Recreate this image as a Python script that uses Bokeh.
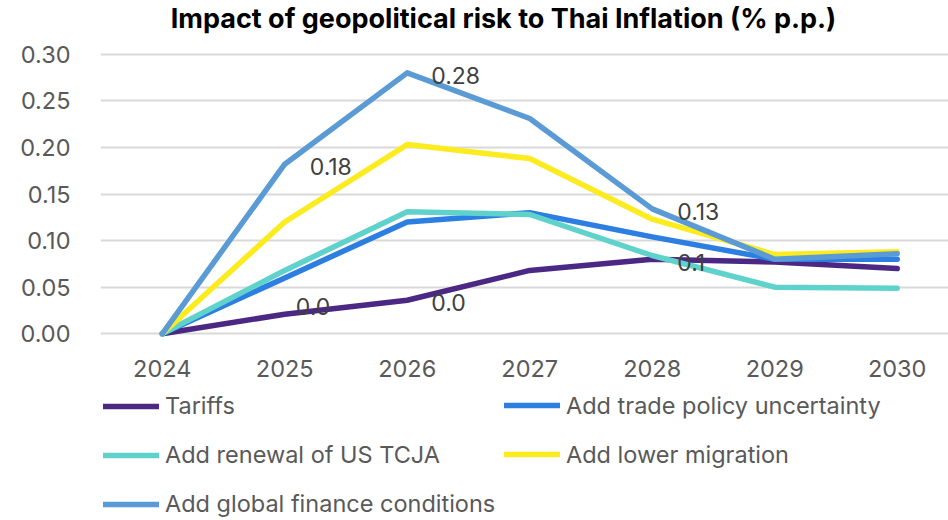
from bokeh.plotting import figure
from bokeh.layouts import column
from bokeh.models import (ColumnDataSource, Legend, LegendItem, FixedTicker,
                          NumeralTickFormatter, Label)
from bokeh.core.properties import value
from bokeh.embed import file_html
from bokeh.resources import INLINE

years = [2024, 2025, 2026, 2027, 2028, 2029, 2030]
series_names = ["Tariffs", "Add trade policy uncertainty", "Add renewal of US TCJA",
                "Add lower migration", "Add global finance conditions"]
tariffs = [0.0, 0.021, 0.036, 0.068, 0.080, 0.077, 0.070]
trade_uncertainty = [0.0, 0.060, 0.120, 0.130, 0.104, 0.080, 0.080]
us_tcja = [0.0, 0.068, 0.131, 0.128, 0.084, 0.050, 0.049]
lower_migration = [0.0, 0.120, 0.203, 0.188, 0.123, 0.085, 0.088]
global_finance = [0.0, 0.182, 0.280, 0.231, 0.134, 0.080, 0.086]
y_ticks = [0.0, 0.05, 0.10, 0.15, 0.20, 0.25, 0.30]
title_text = "Impact of geopolitical risk to Thai Inflation (% p.p.)"

# which years carry data labels
tariff_label_years = [2025, 2026, 2028]
finance_label_years = [2025, 2026, 2028]

colors = ["#4B2884", "#2C7FE0", "#5FD3CB", "#FCEB1E", "#5B9BD5"]
FONT = "Inter"

W = 948
H0 = 38                               # title strip
H2 = 130                              # legend strip
H1 = 520 - H0 - H2                    # chart part
FL, FR = 100, 948                     # frame left/right (all strips share these)
ABS_T, ABS_B = 44, 345                # frame top/bottom in page px
FT = ABS_T - H0
FB = ABS_B - H0
px_per_year = 122.5
x0 = 2024 - 61.7 / px_per_year
x1 = x0 + (FR - FL) / px_per_year
px_per_unit = 932.0
y1 = 0.30 + (53.7 - ABS_T) / px_per_unit
y0 = 0.0 - (ABS_B - 333.3) / px_per_unit

# ---- title strip
tf = figure(width=W, height=H0, output_backend="svg", toolbar_location=None,
            x_range=(0, 1), y_range=(0, 1), min_border=0,
            x_axis_location=None, y_axis_location=None)
tf.outline_line_color = None
tf.grid.visible = False
tf.add_layout(Label(x=503 - FL, y=H0 - 18.2, x_units="screen", y_units="screen",
                    text=title_text, text_font=FONT, text_font_size="27px",
                    text_font_style="bold", text_color="#000000",
                    text_align="center", text_baseline="alphabetic"))

# ---- chart
p = figure(width=W, height=H1, output_backend="svg", toolbar_location=None,
           x_range=(x0, x1), y_range=(y0, y1),
           min_border_left=FL, min_border_right=W - FR,
           min_border_top=FT, min_border_bottom=H1 - FB)
p.outline_line_color = None
p.background_fill_color = "white"
p.border_fill_color = "white"

p.xaxis.ticker = FixedTicker(ticks=years)
p.yaxis.ticker = FixedTicker(ticks=y_ticks)
p.yaxis.formatter = NumeralTickFormatter(format="0.00")
for ax in (p.xaxis[0], p.yaxis[0]):
    ax.axis_line_color = None
    ax.major_tick_line_color = None
    ax.minor_tick_line_color = None
    ax.major_label_text_font = FONT
    ax.major_label_text_font_size = "23.5px"
    ax.major_label_text_color = "#595959"
p.xaxis.major_label_standoff = 8
p.yaxis.major_label_standoff = 24
p.xgrid.grid_line_color = None
p.ygrid.grid_line_color = "#D9D9D9"
p.ygrid.grid_line_width = 2

all_series = [tariffs, trade_uncertainty, us_tcja, lower_migration, global_finance]
sources = {}
for name, vals, col in zip(series_names, all_series, colors):
    src = ColumnDataSource(dict(x=years, y=vals))
    sources[name] = src
    p.line("x", "y", source=src, line_color=col, line_width=5.5,
           line_cap="round", line_join="round")

def add_labels(vals, label_years, fmt, offsets):
    xs, ys, txt = [], [], []
    for yr in label_years:
        v = vals[years.index(yr)]
        xs.append(yr); ys.append(v); txt.append(fmt.format(v))
    src = ColumnDataSource(dict(x=xs, y=ys, t=txt,
                                dx=[o[0] for o in offsets], dy=[o[1] for o in offsets]))
    p.text("x", "y", text="t", source=src, x_offset="dx", y_offset="dy",
           text_font=value(FONT), text_font_size="23px", text_color="#404040",
           text_baseline="middle", text_align="left")

add_labels(tariffs, tariff_label_years, "{:.1f}", [(11, -8), (24, 2.5), (25, 3)])
add_labels(global_finance, finance_label_years, "{:.2f}", [(25, 2.5), (24, 2.5), (25, 3)])

# ---- legend strip (renderers share the data but lie outside this strip's view)
lg = figure(width=W, height=H2, output_backend="svg", toolbar_location=None,
            x_range=(0, 1), y_range=(0, 1), min_border=0,
            x_axis_location=None, y_axis_location=None)
lg.outline_line_color = None
lg.grid.visible = False

rend = {}
for name, col in zip(series_names, colors):
    rend[name] = lg.line("x", "y", source=sources[name], line_color=col,
                         line_width=5.5, line_cap="round")

col1 = ["Tariffs", "Add renewal of US TCJA", "Add global finance conditions"]
col2 = ["Add trade policy uncertainty", "Add lower migration"]

def make_legend(names, loc):
    return Legend(items=[LegendItem(label=n, renderers=[rend[n]]) for n in names],
                  location=loc, orientation="vertical",
                  glyph_width=56, glyph_height=20, label_standoff=6,
                  spacing=20, padding=0, margin=0,
                  label_text_font=FONT, label_text_font_size="23.5px",
                  label_text_color="#595959",
                  border_line_color=None, background_fill_alpha=0)

lg.add_layout(make_legend(col1, (103 - FL, 2)), "center")
lg.add_layout(make_legend(col2, (504 - FL, 2 + 49.5)), "center")

open("out.html", "w").write(file_html(column(tf, p, lg, spacing=0), INLINE))
